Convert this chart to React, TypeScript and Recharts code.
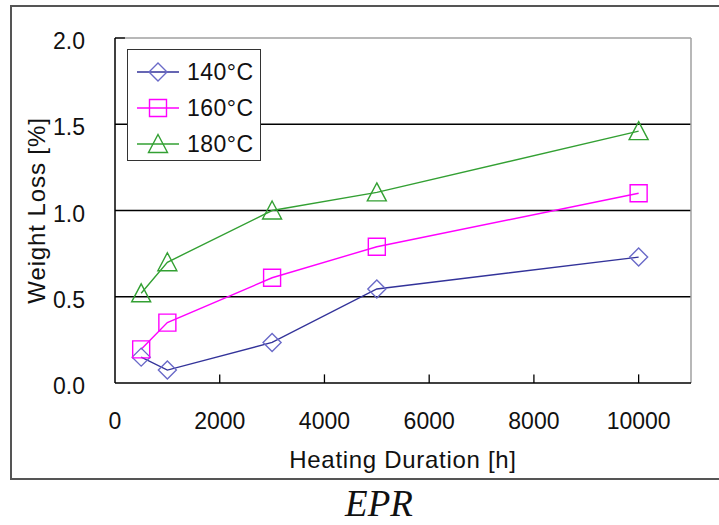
import React from 'react';
import { LineChart, Line, XAxis, YAxis, ReferenceLine } from 'recharts';

// heating duration [h] and weight loss [%] per temperature
const hours = [500, 1000, 3000, 5000, 10000];
const loss140 = [0.15, 0.075, 0.235, 0.545, 0.73];
const loss160 = [0.195, 0.35, 0.61, 0.79, 1.1];
const loss180 = [0.52, 0.7, 1.0, 1.105, 1.46];
const xTicks = [0, 2000, 4000, 6000, 8000, 10000];
const yTicks = [0, 0.5, 1.0, 1.5, 2.0];
const gridValues = [0.5, 1.0, 1.5];

const data = hours.map((h, i) => ({ h, t140: loss140[i], t160: loss160[i], t180: loss180[i] }));

const FONT = '"Liberation Sans", Arial, sans-serif';

type Shape = 'diamond' | 'square' | 'triangle';

const series: { key: string; name: string; line: string; marker: string; shape: Shape }[] = [
  { key: 't140', name: '140°C', line: '#33339a', marker: '#6a6ac8', shape: 'diamond' },
  { key: 't160', name: '160°C', line: '#ff00ff', marker: '#ff00ff', shape: 'square' },
  { key: 't180', name: '180°C', line: '#33a033', marker: '#33a033', shape: 'triangle' },
];

function markerPath(shape: Shape, cx: number, cy: number) {
  if (shape === 'diamond') return `M${cx},${cy - 9}L${cx + 9},${cy}L${cx},${cy + 9}L${cx - 9},${cy}Z`;
  if (shape === 'square') return `M${cx - 8.5},${cy - 8.5}h17v17h-17Z`;
  return `M${cx},${cy - 9.5}L${cx + 9.5},${cy + 8.5}L${cx - 9.5},${cy + 8.5}Z`;
}

const makeDot = (shape: Shape, color: string) => (props: any) => {
  const { cx, cy, index } = props;
  if (cx == null || cy == null) return <g key={index} />;
  return <path key={index} d={markerPath(shape, cx, cy)} fill="none" stroke={color} strokeWidth={1.4} />;
};

function LegendBox() {
  return (
    <div
      style={{
        position: 'absolute',
        left: 127,
        top: 49,
        border: '1.5px solid #333',
        background: '#fff',
        width: 134,
        height: 112,
        boxSizing: 'border-box',
        paddingTop: 4,
        fontFamily: FONT,
      }}
    >
      {series.map((s) => (
        <div key={s.key} style={{ display: 'flex', alignItems: 'center', height: 36 }}>
          <svg width={52} height={24} style={{ marginLeft: 7 }}>
            <line x1={2} y1={12} x2={44} y2={12} stroke={s.line} strokeWidth={1.4} />
            <path d={markerPath(s.shape, 23, 12)} fill="none" stroke={s.marker} strokeWidth={1.4} />
          </svg>
          <span style={{ fontSize: 23, color: '#111', letterSpacing: 0.5 }}>{s.name}</span>
        </div>
      ))}
    </div>
  );
}

export default function App() {
  return (
    <div style={{ position: 'absolute', left: 0, top: 0, width: 719, height: 525, overflow: 'hidden', background: '#fff' }}>
      {/* outer frame */}
      <div
        style={{
          position: 'absolute',
          left: 10,
          top: 5,
          width: 800,
          height: 471,
          border: '2px solid #555',
        }}
      />
      <div style={{ position: 'absolute', left: 0, top: 0 }}>
        <LineChart width={719} height={525} data={data} margin={{ top: 38, right: 28, left: 0, bottom: 47 }}>
          {gridValues.map((v) => (
            <ReferenceLine key={v} y={v} stroke="#000" strokeWidth={1.3} />
          ))}
          <ReferenceLine y={2} stroke="#a0a0a0" strokeWidth={1.5} />
          <ReferenceLine x={11000} stroke="#a0a0a0" strokeWidth={1.5} />
          {xTicks.slice(1).map((t) => (
            <ReferenceLine
              key={'xt' + t}
              segment={[
                { x: t, y: 0 },
                { x: t, y: 0.05 },
              ]}
              stroke="#000"
              strokeWidth={1.3}
            />
          ))}
          <ReferenceLine
            segment={[
              { x: 0, y: 2 },
              { x: 190, y: 2 },
            ]}
            stroke="#000"
            strokeWidth={1.3}
          />
          <XAxis
            dataKey="h"
            type="number"
            domain={[0, 11000]}
            ticks={xTicks}
            height={95}
            tickLine={false}
            tickSize={0}
            tickMargin={30}
            axisLine={{ stroke: '#000', strokeWidth: 1.5 }}
            tick={{ fill: '#111', fontSize: 23, fontFamily: FONT }}
            label={{
              value: 'Heating Duration [h]',
              position: 'insideBottom',
              offset: 10,
              style: { fill: '#111', fontSize: 24, fontFamily: FONT, letterSpacing: 0.7 },
            }}
          />
          <YAxis
            type="number"
            domain={[0, 2]}
            ticks={yTicks}
            width={115}
            tickLine={false}
            tickSize={0}
            tickMargin={30}
            axisLine={{ stroke: '#000', strokeWidth: 1.5 }}
            tickFormatter={(v: number) => v.toFixed(1)}
            tick={{ fill: '#111', fontSize: 23, fontFamily: FONT, dy: 3 }}
            label={(props: any) => {
              const vb = props.viewBox || {};
              const cx = 45;
              const cy = (vb.y ?? 38) + (vb.height ?? 345) / 2;
              return (
                <text
                  x={cx}
                  y={cy}
                  transform={`rotate(-90, ${cx}, ${cy})`}
                  textAnchor="middle"
                  fill="#111"
                  fontSize={24}
                  letterSpacing={0.9}
                  fontFamily={FONT}
                >
                  Weight Loss [%]
                </text>
              );
            }}
          />
          {series.map((s) => (
            <Line
              key={s.key}
              dataKey={s.key}
              name={s.name}
              type="linear"
              stroke={s.line}
              strokeWidth={1.4}
              dot={makeDot(s.shape, s.marker)}
              activeDot={false}
              isAnimationActive={false}
            />
          ))}
        </LineChart>
      </div>
      <LegendBox />
      <div
        style={{
          position: 'absolute',
          left: 0,
          width: 758,
          top: 484,
          textAlign: 'center',
          fontFamily: '"Liberation Serif", "Times New Roman", serif',
          fontStyle: 'italic',
          fontSize: 37,
          lineHeight: '40px',
          color: '#111',
        }}
      >
        EPR
      </div>
    </div>
  );
}
